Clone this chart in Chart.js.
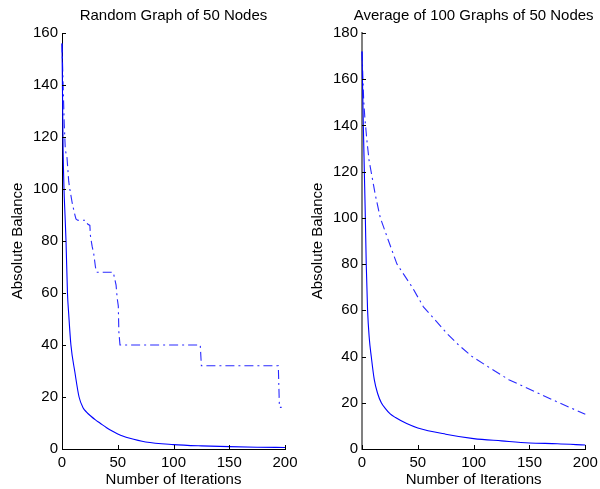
<!DOCTYPE html>
<html>
<head>
<meta charset="utf-8">
<script src="https://cdn.jsdelivr.net/npm/chart.js@4/dist/chart.umd.min.js"></script>
<style>
  html, body { margin: 0; padding: 0; background: #ffffff; }
  #wrap { position: relative; width: 600px; height: 489px; overflow: hidden; background: #fff; }
  canvas { position: absolute; top: 0; }
</style>
</head>
<body>
<div id="wrap">
  <canvas id="c1" width="300" height="489" style="left:0px"></canvas>
  <canvas id="c2" width="300" height="489" style="left:300px"></canvas>
</div>
<script>
// ---- Data ----
const titleLeft = "Random Graph of 50 Nodes";
const titleRight = "Average of 100 Graphs of 50 Nodes";
const xAxisLabel = "Number of Iterations";
const yAxisLabel = "Absolute Balance";

const xTickLabels = [0, 50, 100, 150, 200];
const yTicksLeft = [0, 20, 40, 60, 80, 100, 120, 140, 160];
const yTicksRight = [0, 20, 40, 60, 80, 100, 120, 140, 160, 180];

// Left: random graph of 50 nodes
const leftSolidX = [0, 0.5, 1, 1.8, 2.7, 3.6, 4.9, 6, 8, 11.5, 15.3, 19, 22, 26, 30, 34, 40, 45, 50, 55, 60, 75, 100, 125, 150, 175, 200];
const leftSolidY = [156, 135, 115, 100, 90, 80, 60, 52, 40, 29.7, 20, 15.8, 14.2, 12.6, 11.2, 10.0, 8.2, 6.9, 5.8, 4.9, 4.2, 2.7, 1.7, 1.2, 0.9, 0.7, 0.6];

const leftDashX = [0, 1, 2, 3, 4.5, 5, 6, 7, 9, 11, 12.5, 14, 21, 23, 25, 25.5, 27, 28.5, 30, 31, 46, 47, 48.5, 49.5, 50.5, 51, 52, 124, 125, 194, 195, 197];
const leftDashY = [156, 140, 125, 115, 112, 109, 103, 100, 95, 91, 88.5, 88, 88, 86.5, 86, 82, 78, 75, 70, 68, 68, 66, 63, 58, 55, 45, 40, 40, 32, 32, 16, 16];

// Right: average of 100 graphs of 50 nodes
const rightSolidX = [0, 0.6, 1.2, 2.1, 3, 3.8, 5, 6.5, 8.3, 11, 14, 17.3, 21, 25, 30, 40, 50, 75, 100, 125, 150, 175, 200];
const rightSolidY = [172, 155, 140, 120, 100, 80, 60, 48, 40, 30, 24, 20, 17.5, 15.3, 13.6, 11, 9.1, 6.4, 4.5, 3.5, 2.6, 2.3, 1.7];

const rightDashX = [0, 1.5, 2.6, 4.5, 6.3, 11.9, 16.4, 23.8, 31.3, 45, 55, 67, 76, 86.5, 98.6, 114.8, 131.5, 154, 176.6, 200];
const rightDashY = [172, 151, 143, 133, 125, 110, 100, 90, 80, 70, 61.5, 55, 50, 45, 40, 35, 30, 25, 20, 15];

// ---- helpers ----
const FONT = "'Liberation Sans', Arial, Helvetica, sans-serif";
const FS = 15;

function pts(xs, ys) { return xs.map((x, i) => ({ x: x, y: ys[i] })); }

const inwardTicks = {
  id: 'inwardTicks',
  afterDatasetsDraw(chart) {
    const ctx = chart.ctx;
    const a = chart.chartArea;
    const L = 4;
    ctx.save();
    ctx.strokeStyle = '#000';
    ctx.lineWidth = 1;
    const xs = chart.scales.x, ys = chart.scales.y;
    ctx.beginPath();
    xs.ticks.forEach(t => {
      const p = Math.round(xs.getPixelForValue(t.value)) + 0.5;
      ctx.moveTo(p, a.bottom);
      ctx.lineTo(p, a.bottom - L);
    });
    ys.ticks.forEach(t => {
      const p = Math.round(ys.getPixelForValue(t.value)) + 0.5;
      ctx.moveTo(a.left, p);
      ctx.lineTo(a.left + L, p);
    });
    ctx.stroke();
    ctx.restore();
  }
};

// Title drawn centred over the plot area (not shrunk to fit)
const plotTitle = {
  id: 'plotTitle',
  afterDraw(chart, args, opts) {
    const ctx = chart.ctx;
    const a = chart.chartArea;
    ctx.save();
    ctx.fillStyle = '#000';
    ctx.font = FS + 'px ' + FONT;
    ctx.textAlign = 'center';
    ctx.textBaseline = 'middle';
    ctx.fillText(opts.text, (a.left + a.right) / 2, 15.5);
    ctx.restore();
  }
};

function makeChart(id, title, solidX, solidY, dashX, dashY, yTicks, padRight, yBorderColor, yBorderWidth) {
  const yMax = yTicks[yTicks.length - 1];
  return new Chart(document.getElementById(id), {
    type: 'line',
    data: {
      datasets: [
        {
          data: pts(solidX, solidY),
          borderColor: '#0000ff',
          borderWidth: 1.1,
          pointRadius: 0,
          fill: false,
          cubicInterpolationMode: 'monotone',
          clip: false
        },
        {
          data: pts(dashX, dashY),
          borderColor: '#2a2aff',
          borderWidth: 1.1,
          borderDash: [9, 4, 2, 4],
          pointRadius: 0,
          fill: false,
          tension: 0,
          clip: false
        }
      ]
    },
    options: {
      responsive: false,
      animation: false,
      devicePixelRatio: 1,
      layout: { padding: { left: 0, right: padRight, top: 33, bottom: 0 } },
      plugins: {
        legend: { display: false },
        tooltip: { enabled: false },
        title: { display: false },
        plotTitle: { text: title }
      },
      scales: {
        x: {
          type: 'linear',
          min: 0, max: 200,
          afterBuildTicks(s) { s.ticks = xTickLabels.map(v => ({ value: v })); },
          afterFit(s) { s.height = 40; s.paddingLeft = 0; s.paddingRight = 0; s.paddingTop = 0; s.paddingBottom = 0; },
          grid: { display: true, drawOnChartArea: false, drawTicks: false },
          border: { display: true, color: '#000', width: 1 },
          ticks: { color: '#000', font: { family: FONT, size: FS }, padding: 5, maxRotation: 0, autoSkip: false },
          title: { display: true, text: xAxisLabel, color: '#000', font: { family: FONT, size: FS }, padding: { top: 0, bottom: 0 } }
        },
        y: {
          type: 'linear',
          min: 0, max: yMax,
          afterBuildTicks(s) { s.ticks = yTicks.map(v => ({ value: v })); },
          afterFit(s) { s.width = 62; s.paddingLeft = 0; s.paddingRight = 0; s.paddingTop = 0; s.paddingBottom = 0; },
          grid: { display: true, drawOnChartArea: false, drawTicks: false },
          border: { display: true, color: yBorderColor, width: yBorderWidth },
          ticks: { color: '#000', font: { family: FONT, size: FS }, padding: 4, autoSkip: false },
          title: { display: true, text: yAxisLabel, color: '#000', font: { family: FONT, size: FS }, padding: { top: 9, bottom: 0 } }
        }
      }
    },
    plugins: [inwardTicks, plotTitle]
  });
}

makeChart('c1', titleLeft, leftSolidX, leftSolidY, leftDashX, leftDashY, yTicksLeft, 15, '#000', 1);
makeChart('c2', titleRight, rightSolidX, rightSolidY, rightDashX, rightDashY, yTicksRight, 14.7, '#808080', 2);
</script>
</body>
</html>
